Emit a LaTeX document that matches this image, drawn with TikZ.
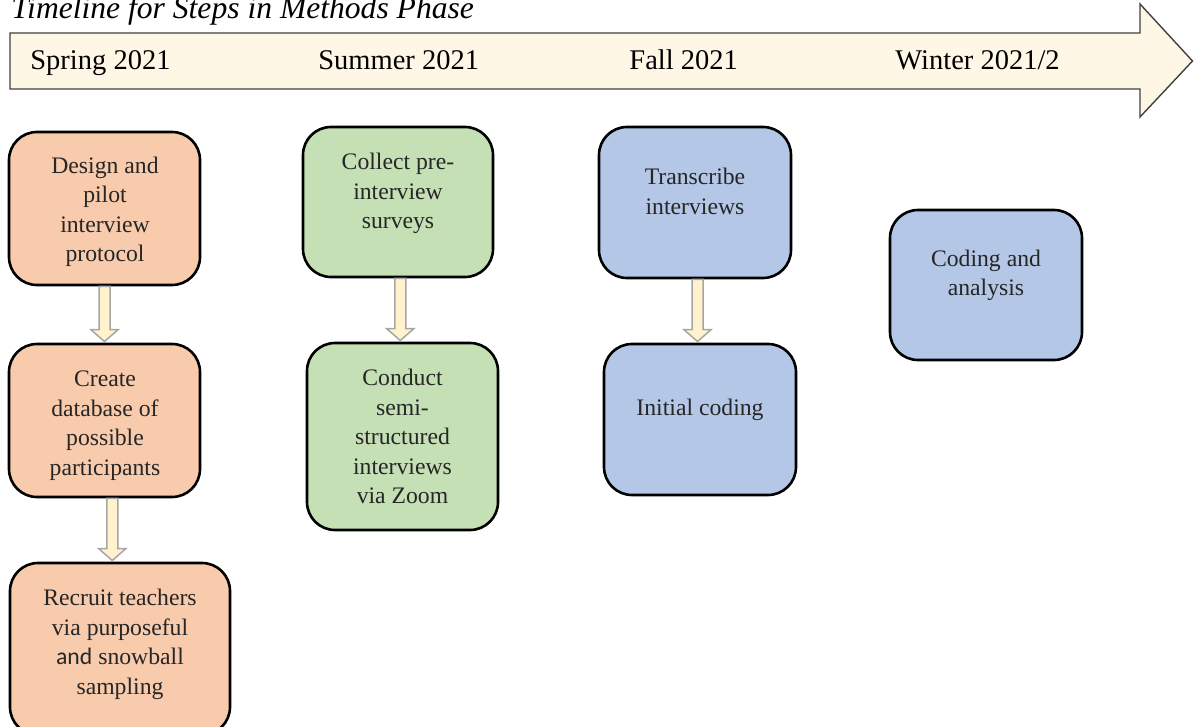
\documentclass[tikz,border=0pt]{standalone}
\usepackage{fontspec}
\setmainfont{Liberation Serif}
\newfontfamily\andfont{Carlito}
\usetikzlibrary{calc}
\definecolor{orangefill}{HTML}{F8CBAD}
\definecolor{greenfill}{HTML}{C5E0B4}
\definecolor{bluefill}{HTML}{B4C7E7}
\definecolor{tlfill}{HTML}{FFF7E6}
\definecolor{tledge}{HTML}{404040}
\definecolor{arrfill}{HTML}{FFF2CC}
\definecolor{arredge}{HTML}{A6A6A6}
\definecolor{txtcol}{HTML}{262626}
\newcommand\blockarrow[2]{%
  \draw[blockarr] let \p1=(#1.south), \p2=(#2.north), \p3=(#1.center), \p4=(#2.center) in
    ({(\x3+\x4)/2-2.75pt},\y1) -- ({(\x3+\x4)/2-2.75pt},{\y2+6.5pt})
    -- ({(\x3+\x4)/2-6.75pt},{\y2+6.5pt}) -- ({(\x3+\x4)/2},{\y2+0.6pt})
    -- ({(\x3+\x4)/2+6.75pt},{\y2+6.5pt}) -- ({(\x3+\x4)/2+2.75pt},{\y2+6.5pt})
    -- ({(\x3+\x4)/2+2.75pt},\y1) -- cycle;}
\begin{document}
\begin{tikzpicture}[x=0.5pt,y=-0.5pt,
  stepbox/.style={draw=black, line width=1.3pt, rounded corners=14pt, inner sep=0pt},
  boxtext/.style={align=center, inner sep=0pt, text=txtcol, font=\fontsize{11.85pt}{14.75pt}\selectfont},
  period/.style={anchor=base west, inner sep=0pt, font=\fontsize{14.25pt}{17pt}\selectfont},
  blockarr/.style={draw=arredge, fill=arrfill, line width=0.75pt, line join=miter}
]
\useasboundingbox (0,0) rectangle (1194,727);
\clip (0,0) rectangle (1194,727);

% title
\node[anchor=base west, inner sep=0pt, font=\fontsize{15.8pt}{19pt}\selectfont\itshape] (title) at (11,18.5) {Timeline for Steps in Methods Phase};

% timeline arrow
\draw[fill=tlfill, draw=tledge, line width=0.7pt, line join=miter]
  (10,33) -- (1140,33) -- (1140,4) -- (1192.5,61) -- (1140,117) -- (1140,89) -- (10,89) -- cycle;
\node[period] (spring) at (30,70) {Spring 2021};
\node[period] (summer) at (318,70) {Summer 2021};
\node[period] (fall) at (629,70) {Fall 2021};
\node[period] (winter) at (895,70) {Winter 2021/2};

% boxes
\node[stepbox, fill=orangefill, minimum width=95.5pt, minimum height=76.5pt] (b1) at (104.5,208.5) {};
\node[stepbox, fill=orangefill, minimum width=95.5pt, minimum height=76.5pt] (b2) at (104.5,420.5) {};
\node[stepbox, fill=orangefill, minimum width=110pt, minimum height=86pt] (b3) at (120,649) {};
\node[stepbox, fill=greenfill, minimum width=95pt, minimum height=75pt] (b4) at (398,202) {};
\node[stepbox, fill=greenfill, minimum width=95.5pt, minimum height=93.5pt] (b5) at (402.5,436.5) {};
\node[stepbox, fill=bluefill, minimum width=96pt, minimum height=75.5pt] (b6) at (695,202.5) {};
\node[stepbox, fill=bluefill, minimum width=96pt, minimum height=75.5pt] (b7) at (700,419.5) {};
\node[stepbox, fill=bluefill, minimum width=96pt, minimum height=75pt] (b8) at (986,285) {};

% texts
\node[boxtext] (t1) at (105,212) {Design and\\pilot\\interview\\protocol};
\node[boxtext] (t2) at (105,425.5) {Create\\database of\\possible\\participants};
\node[boxtext] (t3) at (120,644.5) {Recruit teachers\\via purposeful\\{\andfont and} snowball\\sampling};
\node[boxtext] (t4) at (398,193.5) {Collect pre-\\interview\\surveys};
\node[boxtext] (t5) at (402.5,436.5) {Conduct\\semi-\\structured\\interviews\\via Zoom};
\node[boxtext] (t6) at (695,191.5) {Transcribe\\interviews};
\node[boxtext] (t7) at (700,409.5) {Initial coding};
\node[boxtext] (t8) at (986,275.5) {Coding and\\analysis};

% block arrows
\blockarrow{b1}{b2}
\blockarrow{b2}{b3}
\blockarrow{b4}{b5}
\blockarrow{b6}{b7}
\end{tikzpicture}
\end{document}
